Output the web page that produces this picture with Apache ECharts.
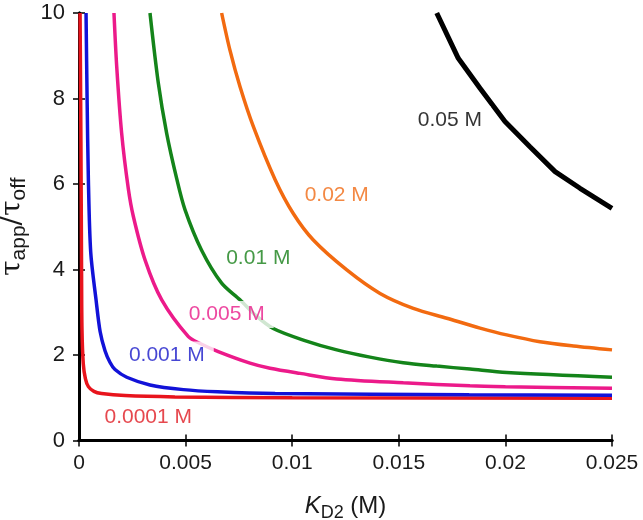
<!DOCTYPE html>
<html>
<head>
<meta charset="utf-8">
<script src="https://cdn.jsdelivr.net/npm/echarts@6/dist/echarts.min.js"></script>
<style>
html,body{margin:0;padding:0;background:#fff;}
#chart{width:643px;height:520px;}
</style>
</head>
<body>
<div id="chart"></div>
<script>
// ---- data (x = K_D2 in M, y = tau_app / tau_off) ----
const xTickLabels = ['0', '0.005', '0.01', '0.015', '0.02', '0.025'];
const yTickLabels = ['0', '2', '4', '6', '8', '10'];

const curve0001 = [[0.00005,10],[0.00009,7],[0.00012,4],[0.00014,2.6],[0.0002,1.8],[0.0003,1.45],[0.00044,1.26],[0.0007,1.15],[0.00106,1.1],[0.00216,1.05],[0.0045,1.02],[0.01,1.0],[0.025,0.99]];
const curve001 = [[0.00033,10],[0.00038,8],[0.00044,6.1],[0.00055,4.4],[0.0008,3.29],[0.00099,2.55],[0.00122,2.1],[0.00145,1.83],[0.00169,1.66],[0.00224,1.48],[0.00333,1.3],[0.0049,1.19],[0.0065,1.14],[0.0092,1.1],[0.0183,1.07],[0.025,1.06]];
const curve005 = [[0.00164,10],[0.00177,8.74],[0.002,7.19],[0.00231,5.9],[0.00255,5.24],[0.0031,4.22],[0.00388,3.29],[0.00513,2.43],[0.00568,2.27],[0.00653,2.08],[0.00802,1.81],[0.00896,1.69],[0.01037,1.57],[0.01209,1.44],[0.01521,1.35],[0.01834,1.28],[0.02,1.26],[0.025,1.22]];
const curve01 = [[0.00333,10],[0.00372,8.36],[0.00411,7.19],[0.00458,6.13],[0.00497,5.4],[0.00575,4.45],[0.00669,3.68],[0.00755,3.29],[0.0083,2.92],[0.00911,2.62],[0.01052,2.35],[0.01209,2.12],[0.01365,1.95],[0.01521,1.82],[0.01678,1.74],[0.01834,1.67],[0.02006,1.59],[0.025,1.48]];
const curve02 = [[0.00669,10],[0.00708,9.13],[0.00755,8.28],[0.00818,7.34],[0.0092,6.1],[0.01005,5.31],[0.01099,4.69],[0.01256,3.99],[0.01412,3.44],[0.01568,3.09],[0.01725,2.86],[0.01881,2.63],[0.02006,2.47],[0.02162,2.31],[0.02319,2.21],[0.025,2.12]];
const curve05 = [[0.01678,10],[0.01779,8.94],[0.01881,8.24],[0.01998,7.46],[0.02115,6.87],[0.02233,6.29],[0.0235,5.9],[0.025,5.43]];

const seriesNames = ['0.0001 M', '0.001 M', '0.005 M', '0.01 M', '0.02 M', '0.05 M'];
const seriesCurves = [curve0001, curve001, curve005, curve01, curve02, curve05];
const seriesColors = ['#e8141c', '#1212d8', '#ec1a8a', '#14841a', '#f26a10', '#000000'];
const labelPositions = [[0.00339,0.54],[0.00426,2.0],[0.00707,2.95],[0.00855,4.26],[0.01223,5.73],[0.01754,7.5]];
const labelColors = ['#e01a22', '#1818c8', '#e81a88', '#168018', '#f06a14', '#000000'];

const FONT = '"Liberation Sans", Arial, Helvetica, sans-serif';

const chart = echarts.init(document.getElementById('chart'), null, {renderer: 'canvas'});

const series = [];
seriesCurves.forEach((c, i) => {
  series.push({
    name: seriesNames[i],
    type: 'line',
    data: c,
    showSymbol: false,
    smooth: i === 5 ? false : 0.3,
    clip: true,
    z: 2,
    lineStyle: {color: seriesColors[i], width: i === 5 ? 5 : 3.5},
    silent: true
  });
});
series.push({
  type: 'scatter',
  z: 6,
  symbolSize: 1,
  itemStyle: {color: 'rgba(0,0,0,0)'},
  data: labelPositions.map((p, i) => ({
    value: p,
    label: {
      show: true,
      position: 'inside',
      formatter: seriesNames[i],
      color: labelColors[i],
      fontSize: 21,
      fontFamily: FONT,
      backgroundColor: '#ffffff',
      padding: [3, 9, 3, 3]
    }
  })),
  silent: true
});

const axisLineStyle = {show: true, lineStyle: {color: '#000', width: 3}};
const tickStyle = {show: true, inside: true, length: 6, lineStyle: {color: '#000', width: 1.5}};

chart.setOption({
  animation: false,
  backgroundColor: '#fff',
  grid: {left: 79, right: 31, top: 13, bottom: 79.5, containLabel: false, outerBoundsMode: 'none'},
  xAxis: [{
    type: 'value', min: 0, max: 0.025, interval: 0.005,
    axisLine: axisLineStyle, axisTick: tickStyle, splitLine: {show: false},
    axisLabel: {
      fontSize: 21, fontFamily: FONT, color: '#1a1a1a', margin: 12,
      formatter: (v) => xTickLabels[Math.round(v / 0.005)]
    },
    name: '{k|K}{s|D2}{n| (M)}',
    nameLocation: 'middle', nameGap: 50,
    nameTextStyle: {
      rich: {
        k: {fontSize: 24, fontStyle: 'italic', fontFamily: FONT, color: '#1a1a1a', lineHeight: 32},
        s: {fontSize: 18, fontFamily: FONT, color: '#1a1a1a', lineHeight: 18, padding: [14, 0, 0, 0]},
        n: {fontSize: 24, fontFamily: FONT, color: '#1a1a1a', lineHeight: 32}
      }
    }
  }, {
    type: 'value', position: 'top', min: 0, max: 0.025, interval: 0.005,
    axisLine: axisLineStyle, axisTick: tickStyle, axisLabel: {show: false}, splitLine: {show: false}
  }],
  yAxis: [{
    type: 'value', min: 0, max: 10, interval: 2,
    axisLine: axisLineStyle, axisTick: tickStyle, splitLine: {show: false},
    axisLabel: {
      fontSize: 22, fontFamily: FONT, color: '#1a1a1a', margin: 14,
      formatter: (v) => yTickLabels[Math.round(v / 2)]
    },
    name: '{t|τ}{s|app}{t|/τ}{s|off}',
    nameLocation: 'middle', nameGap: 41, nameRotate: 90,
    nameTextStyle: {
      rich: {
        t: {fontSize: 28, fontFamily: '"DejaVu Serif", serif', color: '#1a1a1a', lineHeight: 34},
        s: {fontSize: 21, fontFamily: FONT, color: '#1a1a1a', lineHeight: 21, padding: [13, 0, 0, 0]}
      }
    }
  }, {
    type: 'value', position: 'right', min: 0, max: 10, interval: 2,
    axisLine: axisLineStyle, axisTick: tickStyle, axisLabel: {show: false}, splitLine: {show: false}
  }],
  series: series
});
</script>
</body>
</html>
